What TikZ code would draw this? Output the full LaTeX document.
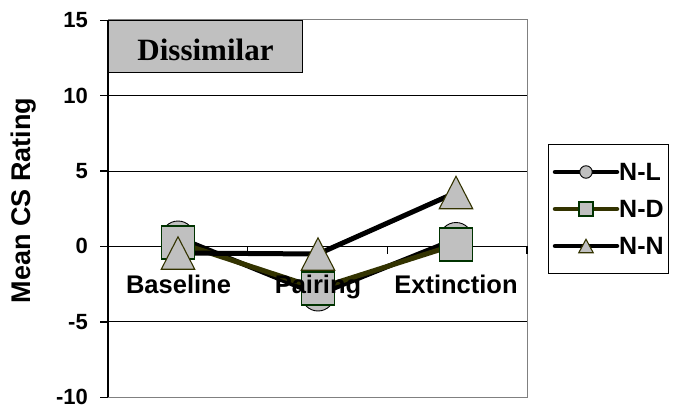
\documentclass[tikz,border=0pt]{standalone}
\usepackage{fontspec}
\setmainfont{Liberation Sans}
\newfontfamily\serifbold{Liberation Serif}
\definecolor{mkgray}{HTML}{C0C0C0}
\definecolor{sqgreen}{HTML}{003300}
\definecolor{olive}{HTML}{333300}
\definecolor{bordergray}{HTML}{808080}
\begin{document}
\begin{tikzpicture}[x=1pt,y=-1pt,
  gridl/.style={black, line width=1pt},
  axl/.style={black, line width=1.2pt},
  ticklab/.style={anchor=east, inner sep=0pt, font=\bfseries\fontsize{22}{22}\selectfont},
  catlab/.style={anchor=base, inner sep=0pt, font=\bfseries\fontsize{25.5}{25.5}\selectfont},
  leglab/.style={anchor=west, inner sep=0pt, font=\bfseries\fontsize{25}{25}\selectfont},
  serl/.style={line width=5pt, line join=round},
  legl/.style={line width=4.5pt, line cap=round},
  mkc/.style={circle, draw=black, fill=mkgray, minimum size=#1, inner sep=0pt, line width=0.9pt},
  mks/.style={rectangle, draw=sqgreen, fill=mkgray, minimum size=#1, inner sep=0pt, line width=1.1pt},
  mkt/.style={rectangle, minimum width=#1, minimum height=#1-1pt, inner sep=0pt},
  tri/.style={draw=olive, fill=mkgray, line width=1.1pt, line join=miter}
]
\useasboundingbox (0,0) rectangle (683,412);
\fill[white] (0,0) rectangle (683,412);

% plot area
\draw[bordergray, line width=1pt] (108,20) rectangle (527,397);
\foreach \yy in {95.7,171,321.9} \draw[gridl] (108,\yy) -- (527,\yy);
% category axis at 0
\draw[axl] (108,246.3) -- (527,246.3);
\foreach \xx in {108,247.7,387.3,527} \draw[axl] (\xx,246.3) -- (\xx,254);
% value axis
\draw[axl] (108,20) -- (108,397);
\foreach \yy in {20.3,95.7,171,246.3,321.9,397.3} \draw[axl] (100,\yy) -- (108,\yy);

% tick labels
\node[ticklab] (t15) at (88,20.3) {15};
\node[ticklab] (t10) at (88,95.7) {10};
\node[ticklab] (t5) at (88,171) {5};
\node[ticklab] (t0) at (88,246.3) {0};
\node[ticklab] (tm5) at (88,321.9) {-5};
\node[ticklab] (tm10) at (88,397.3) {-10};

% axis title
\node[rotate=90, inner sep=0pt, font=\bfseries\fontsize{27}{27}\selectfont] (ytitle) at (24,200.5) {Mean CS Rating};

% data points
\coordinate (nl1) at (178,237.5);
\coordinate (nl2) at (318,294.5);
\coordinate (nl3) at (456,239);
\coordinate (nd1) at (178,242.5);
\coordinate (nd2) at (318,288.5);
\coordinate (nd3) at (456,244.5);
\coordinate (nn1) at (178,253);
\coordinate (nn2) at (318,254);
\coordinate (nn3) at (456,192.5);

% series lines
\draw[serl, black] (nl1) -- (nl2) -- (nl3);
\draw[serl, olive] (nd1) -- (nd2) -- (nd3);
\draw[serl, black] (nn1) -- (nn2) -- (nn3);

% markers
\node[mkc=33pt] (mnl1) at (nl1) {};
\node[mkc=33pt] (mnl2) at (nl2) {};
\node[mkc=33pt] (mnl3) at (nl3) {};
\node[mks=33pt] (mnd1) at (nd1) {};
\node[mks=33pt] (mnd2) at (nd2) {};
\node[mks=33pt] (mnd3) at (nd3) {};
\node[mkt=33pt] (mnn1) at (nn1) {};
\node[mkt=33pt] (mnn2) at (nn2) {};
\node[mkt=33pt] (mnn3) at (nn3) {};
\foreach \m in {mnn1,mnn2,mnn3}
  \draw[tri] (\m.south west) -- (\m.south east) -- (\m.north) -- cycle;

% category labels
\node[catlab] (cb) at (178.5,293) {Baseline};
\node[catlab] (cp) at (318,293) {Pairing};
\node[catlab] (ce) at (456,293) {Extinction};

% title box
\node[draw=black, fill=mkgray, line width=1.3pt, minimum width=194pt, minimum height=52pt, inner sep=0pt, anchor=north west] (dbox) at (108,20) {};
\node[inner sep=0pt, anchor=base, font=\serifbold\bfseries\fontsize{31}{31}\selectfont] (dtext) at (205.5,60.5) {Dissimilar};

% legend
\node[draw=black, fill=white, line width=1pt, minimum width=120pt, minimum height=129pt, inner sep=0pt, anchor=north west] (legbox) at (548,144) {};
\coordinate (la1) at (555,172); \coordinate (lb1) at (617,172);
\coordinate (la2) at (555,209); \coordinate (lb2) at (617,209);
\coordinate (la3) at (555,246); \coordinate (lb3) at (617,246);
\draw[legl, black] (la1) -- (lb1);
\draw[legl, olive] (la2) -- (lb2);
\draw[legl, black] (la3) -- (lb3);
\node[mkc=12.5pt] (lm1) at (586,172) {};
\node[mks=14pt] (lm2) at (586,209) {};
\node[mkt=14pt] (lm3) at (586,246) {};
\draw[tri] (lm3.south west) -- (lm3.south east) -- (lm3.north) -- cycle;
\node[leglab] (l1) at (619,172) {N-L};
\node[leglab] (l2) at (619,209) {N-D};
\node[leglab] (l3) at (619,246) {N-N};
\end{tikzpicture}
\end{document}
